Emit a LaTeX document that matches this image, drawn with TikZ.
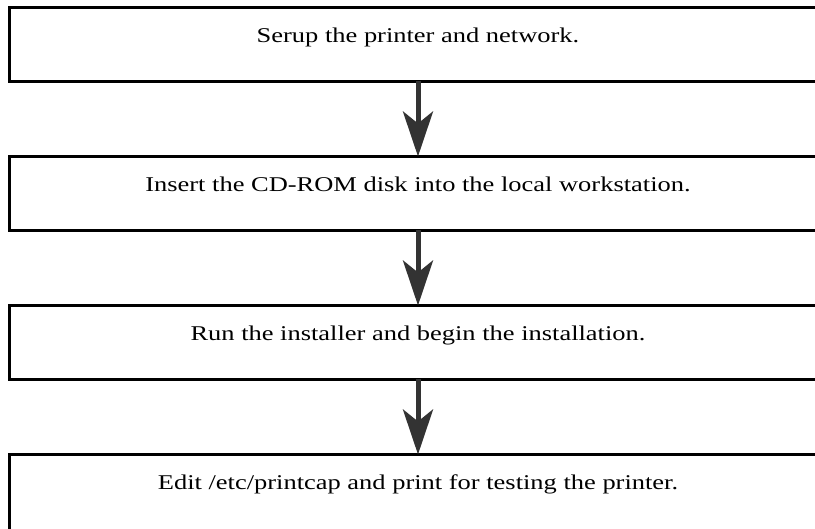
\documentclass[tikz,border=0pt]{standalone}
\usepackage{fontspec}
\setmainfont[FakeStretch=1.26]{Liberation Serif}
\usetikzlibrary{arrows.meta,positioning}
\begin{document}
\begin{tikzpicture}[x=1pt,y=1pt,
	stepbox/.style={draw=black,line width=3pt,outer sep=0pt,inner sep=0pt,
		minimum width=817pt,minimum height=74pt,
		text height=14pt,text depth=17pt,font=\fontsize{21}{25}\selectfont},
	flow/.style={draw=black!80,line width=5pt,-{Stealth[length=45pt,width=30pt,inset=12pt]}}]
	\useasboundingbox (0,0) rectangle (815,-529);
	\node[stepbox] (setup) at (418,-44.5) {Serup the printer and network.};
	\node[stepbox,below=75pt of setup] (insert) {Insert the CD-ROM disk into the local workstation.};
	\node[stepbox,below=75pt of insert] (install) {Run the installer and begin the installation.};
	% last box runs off the bottom edge
	\node[stepbox,minimum height=84pt,text depth=27pt,below=75pt of install] (edit) {Edit /etc/printcap and print for testing the printer.};
	\draw[flow] (setup) -- (insert);
	\draw[flow] (insert) -- (install);
	\draw[flow] (install) -- (edit);
\end{tikzpicture}
\end{document}
